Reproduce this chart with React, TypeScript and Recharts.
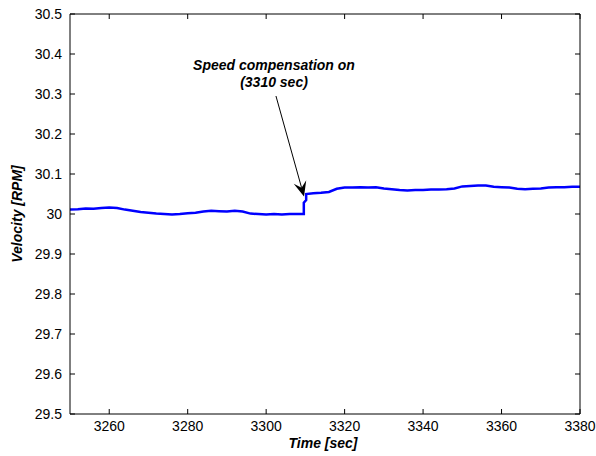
import { LineChart, Line, XAxis, YAxis, ReferenceLine, ReferenceDot, Label } from 'recharts'

// time [sec] and velocity [RPM]
const timeSec = [
  3250, 3252, 3254, 3256, 3258, 3260, 3262, 3264, 3266, 3268, 3270, 3272, 3274, 3276, 3278,
  3280, 3282, 3284, 3286, 3288, 3290, 3292, 3294, 3296, 3298, 3300, 3302, 3304, 3306, 3308,
  3309.6, 3309.6, 3310.2, 3310.2, 3312, 3314, 3316, 3318, 3320, 3322, 3324, 3326, 3328, 3330,
  3332, 3334, 3336, 3338, 3340, 3342, 3344, 3346, 3348, 3350, 3352, 3354, 3356, 3358, 3360,
  3362, 3364, 3366, 3368, 3370, 3372, 3374, 3376, 3378, 3380,
]
const velocityRpm = [
  30.011, 30.012, 30.014, 30.013, 30.015, 30.016, 30.015, 30.011, 30.008, 30.005, 30.003, 30.001, 30.0, 29.999, 30.0,
  30.002, 30.003, 30.006, 30.008, 30.007, 30.006, 30.008, 30.006, 30.001, 30.0, 29.999, 30.0, 29.999, 30.0, 30.0,
  30.0, 30.028, 30.035, 30.05, 30.052, 30.053, 30.055, 30.063, 30.066, 30.066, 30.067, 30.066, 30.067, 30.064,
  30.062, 30.06, 30.059, 30.06, 30.06, 30.061, 30.061, 30.062, 30.064, 30.069, 30.07, 30.071, 30.071, 30.068, 30.067,
  30.066, 30.063, 30.062, 30.063, 30.064, 30.066, 30.067, 30.067, 30.068, 30.068,
]

const xTicks = [3260, 3280, 3300, 3320, 3340, 3360, 3380]
const yTicks = [29.5, 29.6, 29.7, 29.8, 29.9, 30, 30.1, 30.2, 30.3, 30.4, 30.5]

const noteLines = ['Speed compensation on', '(3310 sec)']
const noteAt = { t: 3302, v: 30.36 }
const arrowFrom = { t: 3302.5, v: 30.295 }
const arrowTo = { t: 3309.65, v: 30.044 }

const data = timeSec.map((t, i) => ({ t, v: velocityRpm[i] }))

const FONT = '"Liberation Sans", Arial, Helvetica, sans-serif'
const TICK = 5

const fmt = (v: number) => String(+v.toFixed(1))

const BottomTick = ({ x, y, payload }: any) => (
  <g>
    <line x1={x} y1={y} x2={x} y2={y - TICK} stroke="#000" />
    <text x={x} y={y + 17} textAnchor="middle" fontSize={14} fontFamily={FONT} fill="#000">
      {payload.value}
    </text>
  </g>
)

const TopTick = ({ x, y }: any) => <line x1={x} y1={y} x2={x} y2={y + TICK} stroke="#000" />

const LeftTick = ({ x, y, payload }: any) => (
  <g>
    <line x1={x} y1={y} x2={x + TICK} y2={y} stroke="#000" />
    <text x={x - 8} y={y + 5} textAnchor="end" fontSize={14} fontFamily={FONT} fill="#000">
      {fmt(payload.value)}
    </text>
  </g>
)

const RightTick = ({ x, y }: any) => <line x1={x} y1={y} x2={x - TICK} y2={y} stroke="#000" />

const Arrow = (p: any) => {
  const { x1, y1, x2, y2 } = p
  const a = Math.atan2(y2 - y1, x2 - x1)
  const c = Math.cos(a)
  const s = Math.sin(a)
  const len = 15
  const half = 6.5
  const bx = x2 - len * c
  const by = y2 - len * s
  const nx = x2 - len * 0.6 * c
  const ny = y2 - len * 0.6 * s
  const pts = [
    [x2, y2],
    [bx - half * s, by + half * c],
    [nx, ny],
    [bx + half * s, by - half * c],
  ]
  return (
    <g>
      <line x1={x1} y1={y1} x2={nx} y2={ny} stroke="#000" strokeWidth={1} />
      <polygon points={pts.map((q) => q.join(',')).join(' ')} fill="#000" />
    </g>
  )
}

const Note = (p: any) => (
  <text x={p.cx} y={p.cy} textAnchor="middle" fontSize={14} fontWeight="bold" fontStyle="italic" fontFamily={FONT} fill="#000">
    {noteLines.map((s, i) => (
      <tspan key={i} x={p.cx} dy={i === 0 ? 0 : 17}>
        {s}
      </tspan>
    ))}
  </text>
)

const XTitle = ({ viewBox }: any) => (
  <text
    x={viewBox.x + viewBox.width / 2 - 2}
    y={viewBox.y + 34}
    textAnchor="middle"
    fontSize={14}
    fontWeight="bold"
    fontStyle="italic"
    fontFamily={FONT}
    fill="#000"
  >
    Time [sec]
  </text>
)

const YTitle = ({ viewBox }: any) => {
  const cx = viewBox.x + 2
  const cy = viewBox.y + viewBox.height / 2
  return (
    <text
      x={cx}
      y={cy}
      transform={`rotate(-90, ${cx}, ${cy})`}
      textAnchor="middle"
      fontSize={14}
      fontWeight="bold"
      fontStyle="italic"
      fontFamily={FONT}
      fill="#000"
    >
      Velocity [RPM]
    </text>
  )
}

export default function App() {
  return (
    <div style={{ position: 'absolute', left: 0, top: 0, background: '#fff' }}>
      <LineChart width={596} height={456} data={data} margin={{ top: 13, right: 15, bottom: 12, left: 20 }}>
        <XAxis
          xAxisId="b"
          dataKey="t"
          type="number"
          domain={[3250, 3380]}
          ticks={xTicks}
          interval={0}
          height={30}
          tickSize={0}
          tickMargin={0}
          tick={<BottomTick />}
          axisLine={{ stroke: '#000' }}
          allowDataOverflow
        >
          <Label content={<XTitle />} />
        </XAxis>
        <XAxis
          xAxisId="t"
          orientation="top"
          dataKey="t"
          type="number"
          domain={[3250, 3380]}
          ticks={xTicks}
          interval={0}
          height={1}
          tickSize={0}
          tickMargin={0}
          tick={<TopTick />}
          axisLine={{ stroke: '#000' }}
          allowDataOverflow
        />
        <YAxis
          yAxisId="l"
          type="number"
          domain={[29.5, 30.5]}
          ticks={yTicks}
          interval={0}
          width={50}
          tickSize={0}
          tickMargin={0}
          tick={<LeftTick />}
          axisLine={{ stroke: '#000' }}
          allowDataOverflow
        >
          <Label content={<YTitle />} />
        </YAxis>
        <YAxis
          yAxisId="r"
          orientation="right"
          type="number"
          domain={[29.5, 30.5]}
          ticks={yTicks}
          interval={0}
          width={1}
          tickSize={0}
          tickMargin={0}
          tick={<RightTick />}
          axisLine={{ stroke: '#000' }}
          allowDataOverflow
        />
        <Line
          xAxisId="b"
          yAxisId="l"
          dataKey="v"
          type="linear"
          stroke="#0000ff"
          strokeWidth={2.5}
          dot={false}
          isAnimationActive={false}
        />
        <ReferenceLine
          xAxisId="b"
          yAxisId="l"
          segment={[
            { x: arrowFrom.t, y: arrowFrom.v },
            { x: arrowTo.t, y: arrowTo.v },
          ]}
          ifOverflow="visible"
          shape={Arrow}
        />
        <ReferenceDot
          xAxisId="b"
          yAxisId="l"
          x={noteAt.t}
          y={noteAt.v}
          r={1}
          ifOverflow="visible"
          shape={Note}
        />
      </LineChart>
    </div>
  )
}
